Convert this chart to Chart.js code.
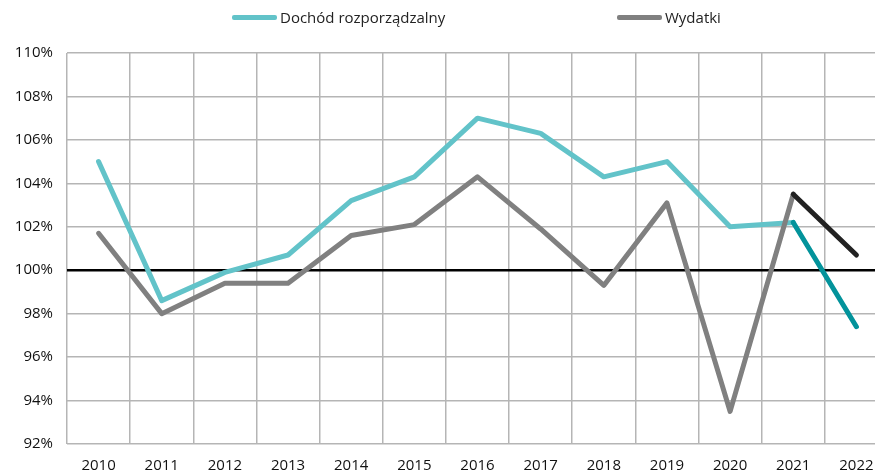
<!DOCTYPE html>
<html>
<head>
<meta charset="utf-8">
<script src="https://cdn.jsdelivr.net/npm/chart.js@4.4.1/dist/chart.umd.min.js"></script>
<style>
  html, body { margin: 0; padding: 0; background: #fff; overflow: hidden; width: 875px; height: 474px; }
  #wrap { position: absolute; left: 0; top: 0; width: 888px; height: 474px; }
  #legend { position: absolute; top: 0; left: 0; width: 875px; height: 36px; font-family: "Open Sans", sans-serif; font-size: 15px; color: #222; }
  .item { position: absolute; top: 7px; display: flex; align-items: center; height: 20px; }
  .swatch { width: 45px; height: 5px; border-radius: 2px; margin-right: 3px; }
</style>
</head>
<body>
<div id="wrap"><canvas id="c" width="888" height="474"></canvas></div>
<div id="legend"></div>
<script>
// ---- data ----
const years = ['2010','2011','2012','2013','2014','2015','2016','2017','2018','2019','2020','2021','2022'];
const dochod = [105.0, 98.6, 99.9, 100.7, 103.2, 104.3, 107.0, 106.3, 104.3, 105.0, 102.0, 102.2, 97.4];
const wydatki = [101.7, 98.0, 99.4, 99.4, 101.6, 102.1, 104.3, 101.9, 99.3, 103.1, 93.5, 103.5, 100.7];
const forecastFrom = 11; // index of 2021: segment 2021-2022 is forecast
const seriesNames = ['Dochód rozporządzalny', 'Wydatki'];
const yTicks = [92, 94, 96, 98, 100, 102, 104, 106, 108, 110];

const colDochod = '#62c3c9', colDochodF = '#03939b';
const colWyd = '#808080', colWydF = '#222222';

// HTML legend
const legend = document.getElementById('legend');
[[seriesNames[0], colDochod, 232], [seriesNames[1], colWyd, 617]].forEach(([name, col, x]) => {
  const d = document.createElement('div');
  d.className = 'item';
  d.style.left = x + 'px';
  d.innerHTML = '<div class="swatch" style="background:' + col + '"></div><span>' + name + '</span>';
  legend.appendChild(d);
});

new Chart(document.getElementById('c'), {
  type: 'line',
  data: {
    labels: years,
    datasets: [
      {
        label: seriesNames[1], data: wydatki, order: 0,
        borderColor: colWyd, borderWidth: 5, pointRadius: 0, tension: 0,
        borderJoinStyle: 'round', borderCapStyle: 'round',
        segment: { borderColor: ctx => ctx.p0DataIndex >= forecastFrom ? colWydF : colWyd }
      },
      {
        label: seriesNames[0], data: dochod, order: 1,
        borderColor: colDochod, borderWidth: 5, pointRadius: 0, tension: 0,
        borderJoinStyle: 'round', borderCapStyle: 'round',
        segment: { borderColor: ctx => ctx.p0DataIndex >= forecastFrom ? colDochodF : colDochod }
      }
    ]
  },
  options: {
    responsive: false,
    animation: false,
    layout: { padding: { top: 53, right: 0, left: 0, bottom: 0 } },
    plugins: { legend: { display: false }, tooltip: { enabled: false } },
    scales: {
      x: {
        offset: true,
        grid: { offset: true, color: '#b5b5b5', lineWidth: 1.5, drawTicks: false },
        border: { display: false },
        ticks: { color: '#111', font: { family: 'Open Sans', size: 15 }, padding: 13, maxRotation: 0, autoSkip: false },
        afterFit: s => { s.height = 30; }
      },
      y: {
        min: 92, max: 110,
        afterBuildTicks: s => { s.ticks = yTicks.map(v => ({ value: v })); },
        grid: {
          drawTicks: false,
          color: ctx => (ctx.tick && ctx.tick.value === 100) ? '#000' : '#b5b5b5',
          lineWidth: ctx => (ctx.tick && ctx.tick.value === 100) ? 2.5 : 1.5
        },
        border: { display: false },
        ticks: { color: '#111', font: { family: 'Open Sans', size: 15 }, padding: 14, callback: v => v + '%' },
        afterFit: s => { s.width = 67; }
      }
    }
  }
});
</script>
</body>
</html>
